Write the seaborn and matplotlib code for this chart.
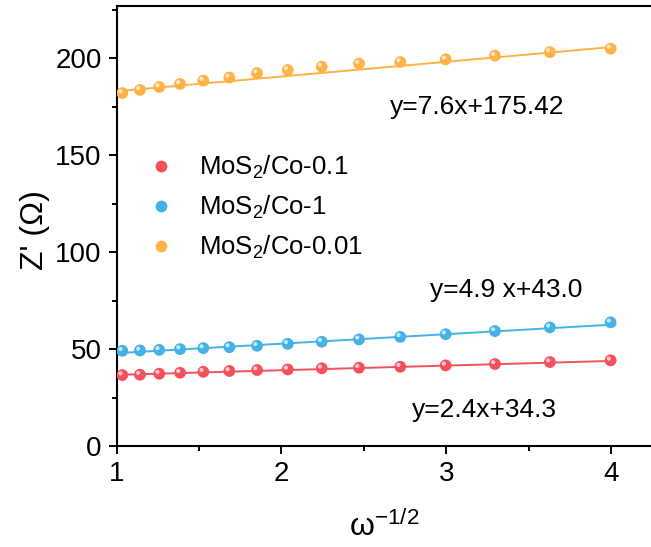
import matplotlib
matplotlib.use("Agg")
import matplotlib.pyplot as plt
import matplotlib.transforms as mtransforms
from matplotlib.ticker import MultipleLocator
import seaborn as sns
import numpy as np
import pandas as pd

# ---- data ----
x_vals = [1.035, 1.142, 1.259, 1.385, 1.526, 1.684, 1.852, 2.038, 2.244, 2.470,
          2.720, 2.995, 3.294, 3.627, 3.995]
y_co01 = [36.6, 36.8, 37.3, 37.8, 38.3, 38.7, 39.2, 39.5, 40.1, 40.4,
          40.9, 41.6, 42.3, 43.3, 44.2]
y_co1 = [49.1, 49.3, 49.6, 50.0, 50.5, 51.0, 51.7, 52.7, 53.8, 55.0,
         56.3, 57.7, 59.3, 61.2, 63.8]
y_co001 = [182.1, 183.7, 185.2, 186.8, 188.5, 190.1, 192.4, 194.0, 195.7, 197.3,
           198.1, 199.5, 201.4, 203.2, 205.0]
series_names = ["MoS$_2$/Co-0.1", "MoS$_2$/Co-1", "MoS$_2$/Co-0.01"]
fit_slopes = [2.4, 4.9, 7.6]
fit_intercepts = [34.3, 43.0, 175.42]
fit_labels = ["y=2.4x+34.3", "y=4.9 x+43.0", "y=7.6x+175.42"]
fit_label_pos = [(2.79, 18.6), (2.90, 80.4), (2.66, 174.7)]
colors = ["#f5515d", "#44b2e6", "#ffb347"]

df = pd.DataFrame({
    "x": x_vals * 3,
    "y": y_co01 + y_co1 + y_co001,
    "series": sum([[n] * len(x_vals) for n in series_names], []),
})
fit_x = [x_vals[0] - 0.03, x_vals[-1] + 0.03]
fit_rows = []
for n, m, b in zip(series_names, fit_slopes, fit_intercepts):
    for xv in fit_x:
        fit_rows.append({"x": xv, "y": m * xv + b, "series": n})
fit_df = pd.DataFrame(fit_rows)

# ---- figure ----
sns.set_theme(style="ticks")
plt.rcParams["font.family"] = ["Liberation Sans", "DejaVu Sans"]
plt.rcParams["mathtext.fontset"] = "custom"
plt.rcParams["mathtext.rm"] = "Liberation Sans"
plt.rcParams["mathtext.it"] = "Liberation Sans"
for k in ["text.color", "axes.labelcolor", "xtick.color", "ytick.color",
          "xtick.labelcolor", "ytick.labelcolor"]:
    plt.rcParams[k] = "black"

fig = plt.figure(figsize=(6.51, 5.47), dpi=100)
ax = fig.add_axes([0.179, 0.1846, 0.821, 0.8044])
palette = dict(zip(series_names, colors))

sns.lineplot(data=fit_df, x="x", y="y", hue="series", palette=palette,
             ax=ax, legend=False, linewidth=1.4, estimator=None)
sns.scatterplot(data=df, x="x", y="y", hue="series", palette=palette, ax=ax,
                s=72, edgecolor="none", zorder=3)
# specular highlight for ball look
hl = mtransforms.offset_copy(ax.transData, fig=fig, x=-1.8, y=1.8, units="dots")
ax.scatter(df["x"], df["y"], s=9, color="white", alpha=0.7, edgecolor="none",
           transform=hl, zorder=4)

for lab, (tx, ty) in zip(fit_labels, fit_label_pos):
    ax.text(tx, ty, lab, fontsize=19, ha="left", va="center", color="black")

ax.set_xlim(1, 4.24)
ax.set_ylim(0, 227)
ax.xaxis.set_major_locator(MultipleLocator(1))
ax.xaxis.set_minor_locator(MultipleLocator(0.5))
ax.yaxis.set_major_locator(MultipleLocator(50))
ax.yaxis.set_minor_locator(MultipleLocator(25))
ax.tick_params(which="major", direction="out", length=5.8, width=1.4,
               labelsize=20, color="black", labelcolor="black", pad=5)
ax.tick_params(which="minor", direction="out", length=3.5, width=1.4, color="black")
for s in ["left", "bottom", "top"]:
    ax.spines[s].set_linewidth(1.5)
    ax.spines[s].set_color("black")
ax.spines["right"].set_visible(False)

ax.set_xlabel(r"ω$^{\mathregular{-1/2}}$", fontsize=23, labelpad=17)
ax.set_ylabel("Z' (Ω)", fontsize=23)
ax.yaxis.set_label_coords(-0.124, 0.49)

leg = ax.legend(loc="upper left", bbox_to_anchor=(-0.008, 0.717), frameon=False,
                fontsize=18.5, labelspacing=0.5, handletextpad=0.48,
                markerscale=1.0)

fig.savefig("out.png", dpi=100)
